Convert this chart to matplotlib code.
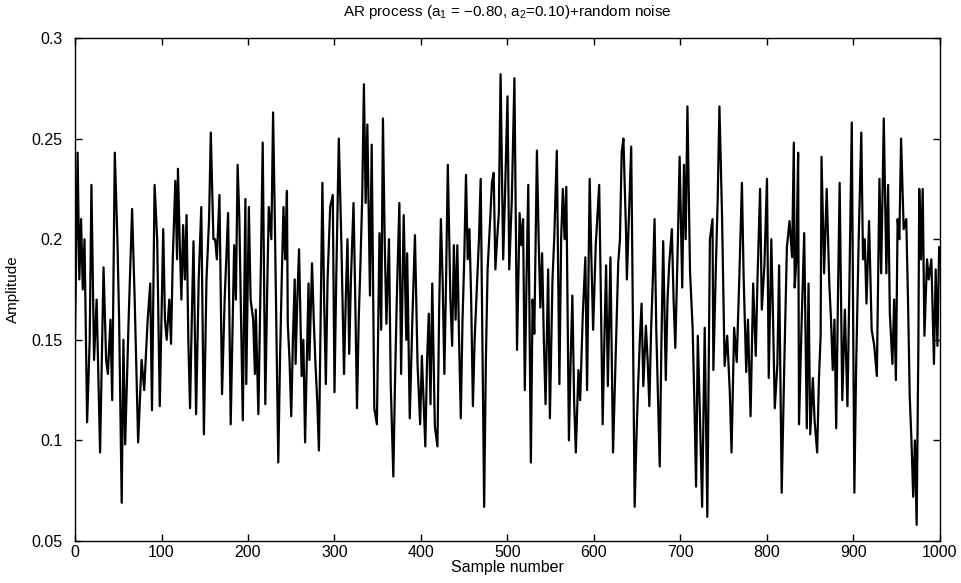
import matplotlib
matplotlib.use("Agg")
import matplotlib.pyplot as plt

plt.rcParams['font.family'] = ['Liberation Sans', 'DejaVu Sans']
plt.rcParams['mathtext.default'] = 'regular'

sample_idx = [0, 3, 5, 7, 9, 11, 14, 17, 19, 22, 25, 29, 33, 36, 38, 41, 43, 46, 49, 51, 54, 56, 58, 62, 66, 69, 73, 77, 80, 84, 87, 89, 92, 95, 98,
              102, 104, 106, 109, 111, 113, 116, 118, 119, 121, 123, 125, 127, 129, 131, 133, 135, 137, 140, 143, 146, 149, 152, 155, 157, 160, 162, 164, 167, 170, 173, 177, 180, 184, 186, 188, 190, 194, 197, 198, 201, 203,
              206, 208, 209, 212, 215, 217, 220, 222, 224, 227, 229, 231, 235, 237, 239, 241, 243, 245, 246, 248, 250, 252, 254, 255, 257, 259, 262, 264, 266, 268, 270, 271, 274, 276, 278, 280, 282, 284, 286, 288, 290, 292, 295, 298,
              300, 302, 305, 308, 311, 313, 315, 317, 319, 322, 324, 326, 328, 330, 332, 334, 336, 338, 341, 343, 346, 349, 352, 354, 356, 358, 360, 363, 365, 368, 370, 372, 375, 377, 380, 383, 384, 387, 390, 393, 396, 399,
              401, 405, 407, 409, 411, 413, 416, 419, 421, 423, 425, 427, 429, 431, 434, 436, 438, 440, 442, 444, 446, 448, 450, 452, 454, 456, 458, 460, 462, 464, 467, 469, 471, 473, 475, 477, 480, 482, 484, 486, 488, 490, 492, 495, 497,
              500, 502, 505, 508, 511, 514, 516, 518, 520, 522, 524, 527, 529, 531, 534, 536, 538, 540, 542, 544, 547, 549, 552, 554, 557, 560, 562, 564, 566, 568, 571, 573, 575, 577, 579, 582, 584, 587, 590, 592, 595, 597, 599,
              602, 606, 608, 610, 612, 614, 616, 619, 622, 626, 628, 630, 632, 634, 637, 638, 641, 643, 644, 647, 649, 651, 653, 655, 657, 660, 662, 664, 666, 668, 670, 672, 674, 676, 678, 680, 683, 685, 687, 690, 692, 694, 697, 699,
              702, 704, 706, 708, 711, 714, 716, 718, 720, 722, 725, 728, 731, 734, 737, 738, 741, 743, 745, 748, 751, 754, 757, 759, 762, 765, 768, 771, 773, 776, 778, 781, 784, 787, 789, 792, 794, 797,
              800, 802, 805, 807, 809, 812, 814, 817, 820, 823, 826, 829, 831, 832, 834, 836, 837, 840, 843, 846, 848, 850, 853, 855, 858, 860, 862, 863, 866, 869, 872, 874, 876, 878, 880, 882, 884, 887, 890, 893, 895, 898,
              901, 903, 906, 909, 911, 913, 915, 918, 921, 924, 927, 930, 932, 935, 938, 940, 942, 945, 947, 949, 951, 953, 955, 958, 961, 963, 965, 967, 969, 971, 973, 975, 976, 978, 980, 982, 985, 987, 990, 993, 995, 997, 999]

amplitude = [0.15, 0.243, 0.18, 0.21, 0.175, 0.2, 0.109, 0.15, 0.227, 0.14, 0.17, 0.094, 0.186, 0.14, 0.133, 0.16, 0.12, 0.243, 0.2, 0.16, 0.069, 0.15, 0.098, 0.16, 0.215, 0.17, 0.099, 0.14, 0.125, 0.16, 0.178, 0.115, 0.227, 0.2, 0.117,
             0.205, 0.16, 0.15, 0.17, 0.148, 0.19, 0.229, 0.19, 0.235, 0.2, 0.17, 0.207, 0.18, 0.212, 0.15, 0.116, 0.16, 0.199, 0.113, 0.18, 0.216, 0.103, 0.18, 0.21, 0.253, 0.2, 0.2, 0.19, 0.222, 0.123, 0.17, 0.213, 0.108, 0.197, 0.17, 0.237, 0.21, 0.11, 0.22, 0.128, 0.216, 0.17,
             0.16, 0.133, 0.165, 0.113, 0.19, 0.248, 0.118, 0.17, 0.216, 0.2, 0.263, 0.21, 0.089, 0.14, 0.18, 0.216, 0.19, 0.224, 0.158, 0.14, 0.112, 0.152, 0.18, 0.138, 0.17, 0.195, 0.132, 0.15, 0.099, 0.14, 0.178, 0.14, 0.188, 0.16, 0.138, 0.12, 0.095, 0.16, 0.228, 0.17, 0.128, 0.18, 0.216, 0.222,
             0.124, 0.18, 0.25, 0.197, 0.133, 0.17, 0.2, 0.143, 0.18, 0.218, 0.17, 0.116, 0.16, 0.188, 0.22, 0.277, 0.218, 0.257, 0.172, 0.247, 0.116, 0.108, 0.203, 0.155, 0.26, 0.2, 0.158, 0.2, 0.128, 0.082, 0.13, 0.17, 0.218, 0.133, 0.212, 0.15, 0.193, 0.111, 0.16, 0.202, 0.138, 0.108,
             0.142, 0.097, 0.14, 0.163, 0.118, 0.178, 0.107, 0.097, 0.166, 0.21, 0.18, 0.133, 0.18, 0.237, 0.17, 0.147, 0.197, 0.16, 0.197, 0.15, 0.111, 0.16, 0.19, 0.232, 0.19, 0.205, 0.17, 0.117, 0.15, 0.17, 0.2, 0.23, 0.15, 0.067, 0.14, 0.185, 0.21, 0.228, 0.233, 0.185, 0.2, 0.213, 0.282, 0.19, 0.22,
             0.271, 0.185, 0.22, 0.28, 0.145, 0.213, 0.197, 0.21, 0.125, 0.18, 0.227, 0.089, 0.17, 0.153, 0.244, 0.2, 0.166, 0.193, 0.15, 0.118, 0.185, 0.111, 0.18, 0.2, 0.244, 0.128, 0.2, 0.225, 0.2, 0.226, 0.1, 0.14, 0.172, 0.12, 0.094, 0.135, 0.12, 0.162, 0.191, 0.125, 0.23, 0.19, 0.155,
             0.197, 0.227, 0.17, 0.108, 0.15, 0.187, 0.127, 0.191, 0.094, 0.158, 0.188, 0.2, 0.243, 0.25, 0.204, 0.18, 0.22, 0.246, 0.204, 0.067, 0.1, 0.127, 0.15, 0.168, 0.127, 0.157, 0.14, 0.117, 0.155, 0.18, 0.21, 0.155, 0.12, 0.087, 0.15, 0.199, 0.13, 0.17, 0.188, 0.205, 0.17, 0.146, 0.2, 0.241,
             0.176, 0.237, 0.2, 0.266, 0.184, 0.156, 0.12, 0.077, 0.152, 0.12, 0.067, 0.156, 0.062, 0.2, 0.21, 0.135, 0.188, 0.22, 0.266, 0.212, 0.137, 0.152, 0.124, 0.094, 0.156, 0.139, 0.181, 0.228, 0.181, 0.134, 0.16, 0.112, 0.178, 0.142, 0.18, 0.225, 0.165, 0.187,
             0.23, 0.131, 0.2, 0.16, 0.116, 0.138, 0.187, 0.074, 0.138, 0.196, 0.209, 0.191, 0.248, 0.176, 0.19, 0.243, 0.108, 0.158, 0.203, 0.106, 0.178, 0.103, 0.131, 0.11, 0.094, 0.13, 0.152, 0.241, 0.183, 0.225, 0.178, 0.16, 0.135, 0.16, 0.106, 0.17, 0.228, 0.12, 0.165, 0.117, 0.17, 0.258,
             0.074, 0.135, 0.2, 0.253, 0.19, 0.2, 0.168, 0.209, 0.155, 0.147, 0.132, 0.23, 0.183, 0.26, 0.183, 0.227, 0.163, 0.138, 0.17, 0.13, 0.21, 0.2, 0.25, 0.205, 0.21, 0.17, 0.122, 0.1, 0.072, 0.1, 0.058, 0.147, 0.225, 0.19, 0.225, 0.152, 0.19, 0.18, 0.19, 0.138, 0.185, 0.147, 0.196]

x_ticks = [0, 100, 200, 300, 400, 500, 600, 700, 800, 900, 1000]
y_ticks = [0.05, 0.1, 0.15, 0.2, 0.25, 0.3]
y_tick_labels = ['0.05', '0.1', '0.15', '0.2', '0.25', '0.3']

fig = plt.figure(figsize=(9.62, 5.83), dpi=100)
ax = fig.add_axes([75/962, 42/583, 865/962, 503/583])
ax.plot(sample_idx, amplitude, color='black', linewidth=1.6)
ax.set_xlim(0, 1000)
ax.set_ylim(0.05, 0.3)
ax.set_xticks(x_ticks)
ax.set_yticks(y_ticks)
ax.set_yticklabels(y_tick_labels)
ax.tick_params(axis='both', direction='in', top=True, right=True, length=5, labelsize=11.5, width=1)
ax.tick_params(axis='y', pad=9)
ax.tick_params(axis='x', pad=3)
for s in ax.spines.values():
    s.set_linewidth(1)
ax.set_title('AR process (a$_1$ = \u22120.80, a$_2$=0.10)+random noise', fontsize=11, pad=16)
ax.set_xlabel('Sample number', fontsize=11.5, labelpad=0)
ax.set_ylabel('Amplitude', fontsize=11, labelpad=8)
fig.savefig('out.png', dpi=100)
